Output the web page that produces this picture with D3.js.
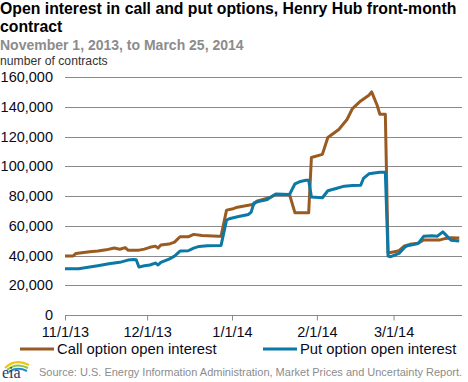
<!DOCTYPE html>
<html><head><meta charset="utf-8">
<script src="https://cdn.jsdelivr.net/npm/d3@7"></script>
<style>
html,body{margin:0;padding:0;background:#fff;}
svg{display:block;font-family:"Liberation Sans",Arial,sans-serif;}
</style></head>
<body>
<svg id="chart" width="468" height="382"></svg>
<script>
const title1 = "Open interest in call and put options, Henry Hub front-month";
const title2 = "contract";
const subtitle = "November 1, 2013, to March 25, 2014";
const unitLabel = "number of contracts";
const seriesNames = ["Call option open interest", "Put option open interest"];
const sourceText = "Source: U.S. Energy Information Administration, Market Prices and Uncertainty Report.";
const yTicks = [0, 20000, 40000, 60000, 80000, 100000, 120000, 140000, 160000];
const xTicks = ["2013-11-01", "2013-12-01", "2014-01-01", "2014-02-01", "2014-03-01"];

const callDates = ["2013-11-01","2013-11-04","2013-11-05","2013-11-10","2013-11-13","2013-11-16","2013-11-19","2013-11-21","2013-11-23","2013-11-24","2013-11-28","2013-11-30",
"2013-12-02","2013-12-04","2013-12-05","2013-12-06","2013-12-09","2013-12-11","2013-12-13","2013-12-16","2013-12-18","2013-12-21","2013-12-27","2013-12-28","2013-12-30",
"2014-01-01","2014-01-03","2014-01-07","2014-01-09","2014-01-10","2014-01-13","2014-01-15","2014-01-17","2014-01-22","2014-01-24","2014-01-29","2014-01-30",
"2014-02-03","2014-02-05","2014-02-09","2014-02-12","2014-02-14","2014-02-17","2014-02-20","2014-02-21","2014-02-23","2014-02-24","2014-02-26","2014-02-27","2014-02-28",
"2014-03-03","2014-03-05","2014-03-07","2014-03-10","2014-03-12","2014-03-14","2014-03-18","2014-03-20","2014-03-22","2014-03-25"];
const callValues = [39700,39700,41400,42500,43000,43800,45000,44200,45300,43600,43600,44300,
45500,46300,45000,47000,47700,49000,52600,52600,54200,53500,53000,53000,70500,
71200,72500,73800,74500,76500,78000,79000,81000,81000,68700,68700,105900,
108000,119300,124700,131400,138800,143900,147700,150000,141000,135000,135000,41600,42000,
43200,46500,47500,48300,50400,50400,50500,51500,52000,51700];

const putDates = ["2013-11-01","2013-11-06","2013-11-10","2013-11-13","2013-11-17","2013-11-21","2013-11-24","2013-11-26","2013-11-27","2013-11-28","2013-11-30",
"2013-12-02","2013-12-04","2013-12-05","2013-12-06","2013-12-09","2013-12-11","2013-12-13","2013-12-16","2013-12-18","2013-12-20","2013-12-23","2013-12-28","2013-12-30","2013-12-31",
"2014-01-03","2014-01-07","2014-01-08","2014-01-09","2014-01-11","2014-01-14","2014-01-15","2014-01-17","2014-01-22","2014-01-24","2014-01-26","2014-01-28","2014-01-29","2014-01-30",
"2014-02-03","2014-02-05","2014-02-08","2014-02-11","2014-02-14","2014-02-17","2014-02-18","2014-02-20","2014-02-24","2014-02-26","2014-02-27","2014-02-28",
"2014-03-03","2014-03-05","2014-03-06","2014-03-10","2014-03-12","2014-03-15","2014-03-17","2014-03-19","2014-03-22","2014-03-25"];
const putValues = [31100,31100,32200,33100,34400,35400,36900,37300,37200,32200,33100,
33600,34900,33600,35400,37600,39600,43000,43200,45000,46100,46500,46800,63800,64700,
66000,67600,69200,75400,76500,77700,79200,81300,81000,88200,89800,90600,90600,79400,
78800,83500,85000,86600,87100,87200,91800,94900,96000,96000,39600,39200,
41400,45400,46500,48100,52900,53300,53000,55900,50200,49700];

const callColor = "#9a5b22";
const putColor = "#0b78a6";

const parse = d3.utcParse("%Y-%m-%d");
const callData = callDates.map((d,i)=>({date:parse(d), value:callValues[i]}));
const putData = putDates.map((d,i)=>({date:parse(d), value:putValues[i]}));

const svg = d3.select("#chart");
const plotLeft = 65, plotRight = 462, plotTop = 77, plotBottom = 315;

const x = d3.scaleUtc().domain([parse("2013-11-01"), parse("2014-03-26")]).range([plotLeft, plotRight]);
const y = d3.scaleLinear().domain([0, 160000]).range([plotBottom, plotTop]);

// Titles
svg.append("text").attr("x",0).attr("y",14).attr("font-size",15.8).attr("font-weight","bold").attr("fill","#000").text(title1);
svg.append("text").attr("x",0).attr("y",32).attr("font-size",15.8).attr("font-weight","bold").attr("fill","#000").text(title2);
svg.append("text").attr("x",0).attr("y",50).attr("font-size",14).attr("font-weight","bold").attr("fill","#8c8c8c").text(subtitle);
svg.append("text").attr("x",0).attr("y",65).attr("font-size",12.2).attr("fill","#333").text(unitLabel);

// Gridlines
svg.append("g").selectAll("line").data(yTicks.filter(v=>v>0)).join("line")
  .attr("x1",plotLeft).attr("x2",plotRight).attr("y1",d=>Math.round(y(d))+0.5).attr("y2",d=>Math.round(y(d))+0.5)
  .attr("stroke","#8a8a8a").attr("stroke-width",1);

// Y axis labels
const yAxis = d3.axisLeft(y).tickValues(yTicks).tickSize(0).tickPadding(0).tickFormat(d3.format(","));
const gy = svg.append("g").attr("transform",`translate(53,0)`).call(yAxis);
gy.select(".domain").remove();
gy.selectAll("text").attr("font-size",14.5).attr("fill","#0a0a1a").attr("font-family","Liberation Sans, Arial, sans-serif");

// X axis
const xAxis = d3.axisBottom(x).tickValues(xTicks.map(parse)).tickSize(5).tickPadding(6).tickFormat(d3.utcFormat("%-m/%-d/%y"));
const gx = svg.append("g").attr("transform",`translate(0,${plotBottom+0.5})`).call(xAxis);
gx.select(".domain").attr("d",`M${plotLeft},0H${plotRight}`).attr("stroke","#8a8a8a");
gx.selectAll(".tick line").attr("stroke","#8a8a8a");
gx.selectAll("text").attr("font-size",14.5).attr("fill","#0a0a1a").attr("font-family","Liberation Sans, Arial, sans-serif");

// Lines
const line = d3.line().x(d=>x(d.date)).y(d=>y(d.value));
svg.append("path").datum(callData).attr("d",line).attr("fill","none").attr("stroke",callColor).attr("stroke-width",3).attr("stroke-linejoin","round");
svg.append("path").datum(putData).attr("d",line).attr("fill","none").attr("stroke",putColor).attr("stroke-width",3).attr("stroke-linejoin","round");

// Legend
const legY = 354;
const leg = [{name:seriesNames[0], color:callColor, x0:20}, {name:seriesNames[1], color:putColor, x0:263}];
leg.forEach(l=>{
  svg.append("line").attr("x1",l.x0).attr("x2",l.x0+34).attr("y1",legY-5).attr("y2",legY-5).attr("stroke",l.color).attr("stroke-width",3);
  svg.append("text").attr("x",l.x0+37).attr("y",legY).attr("font-size",14.8).attr("fill","#0a0a1a").text(l.name);
});

// Source
svg.append("text").attr("x",39).attr("y",376).attr("font-size",11).attr("fill","#8c8c8c").text(sourceText);

// eia logo
const logo = svg.append("g").attr("transform","translate(1,359)");
logo.append("path").attr("d","M4,9 Q14,-1 28,6").attr("fill","none").attr("stroke","#f2c311").attr("stroke-width",2);
logo.append("path").attr("d","M6,11 Q15,3 27,9").attr("fill","none").attr("stroke","#8cc63f").attr("stroke-width",2);
logo.append("path").attr("d","M8,13 Q16,7 26,12").attr("fill","none").attr("stroke","#1f8fc9").attr("stroke-width",2);
logo.append("text").attr("x",1).attr("y",19).attr("font-size",16).attr("font-family","Liberation Serif, serif").attr("fill","#1b3a6b").text("eia");
</script>
</body></html>
